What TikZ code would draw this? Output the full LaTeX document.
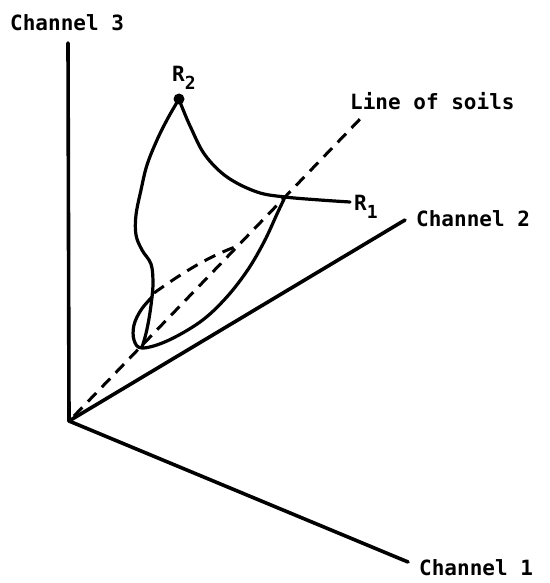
\documentclass[tikz,border=0pt]{standalone}
\usepackage{fontspec}
\setmonofont{DejaVu Sans Mono}
\newcommand{\mysub}[1]{\raisebox{-8pt}{\fontsize{18}{20}\selectfont #1}}
\begin{document}
\begin{tikzpicture}[x=1pt,y=-1pt,
  axis/.style={line width=3.6pt,line cap=round},
  curve/.style={line width=3.2pt,line cap=round,line join=round},
  soils/.style={line width=3pt,dash pattern=on 12pt off 8pt},
  lbl/.style={font=\ttfamily\bfseries\fontsize{21}{25}\selectfont,inner sep=0pt}]
\useasboundingbox (0,0) rectangle (549,583);
% coordinates
\coordinate (O) at (69,421);
\coordinate (C3) at (68,43);
\coordinate (C2) at (405,220);
\coordinate (C1) at (408,562);
\coordinate (S0) at (74,416);
\coordinate (S1) at (362,117);
\coordinate (R1) at (350,202);
\coordinate (R2) at (179,99);
\coordinate (J) at (285,197);
% axes
\draw[axis] (O) -- (C3);
\draw[axis] (O) -- (C2);
\draw[axis] (O) -- (C1);
% line of soils
\draw[soils] (S0) -- (S1);
\draw[soils] (154,293) .. controls (178,276) and (205,258) .. (235,247);
% trajectory
\draw[curve] plot[smooth,tension=0.6] coordinates {(350,202) (320,200) (285,197) (257,192) (227,177) (205,155) (191,128) (182,107) (179,99)};
\draw[curve] plot[smooth,tension=0.6] coordinates {(179,99) (168,118) (157,140) (147,165) (141,190) (136,215) (136,235) (142,250) (151,264) (153,282) (152,297)};
\draw[curve] plot[smooth,tension=0.6] coordinates {(152,297) (141,310) (134,325) (134,340) (142,348) (167,341) (200,322) (225,299) (247,271) (264,242) (277,214) (285,197)};
\draw[curve] (152,297) .. controls (150,315) and (147,333) .. (142,347);
\fill (R2) circle (5.5pt);
% labels
\node[lbl,anchor=west] (l3) at (10,23) {Channel 3};
\node[lbl,anchor=west] (l2) at (416,219) {Channel 2};
\node[lbl,anchor=west] (l1) at (419,568) {Channel 1};
\node[lbl,anchor=west] (ls) at (350,101) {Line of soils};
\node[lbl,anchor=base west] (r1) at (354,210) {R\mysub{1}};
\node[lbl,anchor=base west] (r2) at (172,82) {R\mysub{2}};
\end{tikzpicture}
\end{document}
